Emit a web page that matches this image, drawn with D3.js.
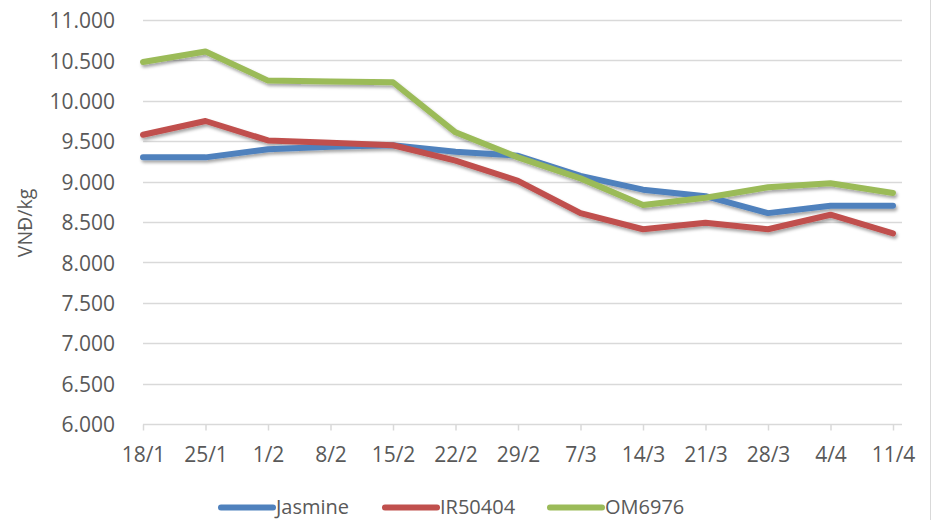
<!DOCTYPE html>
<html>
<head>
<meta charset="utf-8">
<script src="https://cdn.jsdelivr.net/npm/d3@7"></script>
<style>
  html, body { margin: 0; padding: 0; background: #fff; }
  svg { display: block; }
  text { font-family: "Open Sans", "Noto Sans", sans-serif; fill: #595959; }
</style>
</head>
<body>
<svg id="chart" width="932" height="520"></svg>
<script>
const categories = ["18/1","25/1","1/2","8/2","15/2","22/2","29/2","7/3","14/3","21/3","28/3","4/4","11/4"];
const jasmine = [9300, 9300, 9400, 9430, 9450, 9370, 9320, 9070, 8900, 8820, 8610, 8700, 8700];
const ir50404 = [9580, 9750, 9510, 9480, 9450, 9260, 9010, 8610, 8410, 8490, 8410, 8590, 8360];
const om6976  = [10480, 10610, 10250, 10240, 10230, 9610, 9300, 9040, 8710, 8800, 8930, 8980, 8860];
const yTicks = [6000, 6500, 7000, 7500, 8000, 8500, 9000, 9500, 10000, 10500, 11000];
const seriesNames = ["Jasmine", "IR50404", "OM6976"];
const seriesColors = ["#4F81BD", "#C0504D", "#9BBB59"];
const yAxisTitle = "VNĐ/kg";

const series = [jasmine, ir50404, om6976].map((vals, i) => ({name: seriesNames[i], color: seriesColors[i], values: vals}));

const svg = d3.select("#chart");
const plotLeft = 143, plotRight = 902, plotTop = 20, plotBottom = 424;
const fontSize = 21;

const x = d3.scalePoint().domain(categories).range([plotLeft, 893]);
const y = d3.scaleLinear().domain([6000, 11000]).range([plotBottom, plotTop]);

const locale = d3.formatLocale({decimal: ",", thousands: ".", grouping: [3], currency: ["", ""]});
const fmt = locale.format(",.0f");

// shadow filter
const defs = svg.append("defs");
const f = defs.append("filter").attr("id", "shadow").attr("x", "-10%").attr("y", "-20%").attr("width", "120%").attr("height", "150%");
f.append("feDropShadow").attr("dx", 1.5).attr("dy", 2.5).attr("stdDeviation", 1.8).attr("flood-color", "#000").attr("flood-opacity", 0.35);

// chart border on right
svg.append("line").attr("x1", 930.5).attr("x2", 930.5).attr("y1", 0).attr("y2", 520)
  .attr("stroke", "#d9d9d9").attr("stroke-width", 1);

// gridlines
svg.append("g").selectAll("line").data(yTicks.filter(d => d !== 6000)).join("line")
  .attr("x1", plotLeft).attr("x2", plotRight)
  .attr("y1", d => Math.round(y(d)) + 0.5).attr("y2", d => Math.round(y(d)) + 0.5)
  .attr("stroke", "#d9d9d9").attr("stroke-width", 1.5);

// y axis labels
const yAxis = d3.axisLeft(y).tickValues(yTicks).tickFormat(fmt).tickSize(0).tickPadding(0);
const gy = svg.append("g").attr("transform", `translate(115,0)`).call(yAxis);
gy.select(".domain").remove();
gy.selectAll("text").attr("font-size", fontSize).attr("font-family", null).attr("fill", "#595959").attr("dy", "0.37em");

// x axis
const xAxis = d3.axisBottom(x).tickSize(6).tickPadding(17);
const gx = svg.append("g").attr("transform", `translate(0,${Math.round(plotBottom) + 0.5})`).call(xAxis);
gx.select(".domain").attr("d", `M${plotLeft},0H${plotRight}`).attr("stroke", "#d9d9d9").attr("stroke-width", 1.5);
gx.selectAll(".tick line").attr("stroke", "#d9d9d9").attr("stroke-width", 1.5);
gx.selectAll("text").attr("font-size", fontSize).attr("font-family", null).attr("fill", "#595959");

// y axis title
svg.append("text").attr("transform", "translate(32,223) rotate(-90)")
  .attr("text-anchor", "middle").attr("font-size", 19.5).text(yAxisTitle);

// lines
const line = d3.line().x((d, i) => x(categories[i])).y(d => y(d));
svg.append("g").attr("filter", "url(#shadow)").selectAll("path").data(series).join("path")
  .attr("d", d => line(d.values))
  .attr("fill", "none").attr("stroke", d => d.color).attr("stroke-width", 6)
  .attr("stroke-linejoin", "round").attr("stroke-linecap", "round");

// legend
const legendX = [218, 382, 547];
const lg = svg.append("g").selectAll("g").data(series).join("g")
  .attr("transform", (d, i) => `translate(${legendX[i]},507.5)`);
lg.append("line").attr("x1", 3).attr("x2", 55).attr("y1", 0).attr("y2", 0)
  .attr("stroke", d => d.color).attr("stroke-width", 6).attr("stroke-linecap", "round");
lg.append("text").attr("x", 58).attr("y", 6.5).attr("font-size", 20).text(d => d.name);
</script>
</body>
</html>
